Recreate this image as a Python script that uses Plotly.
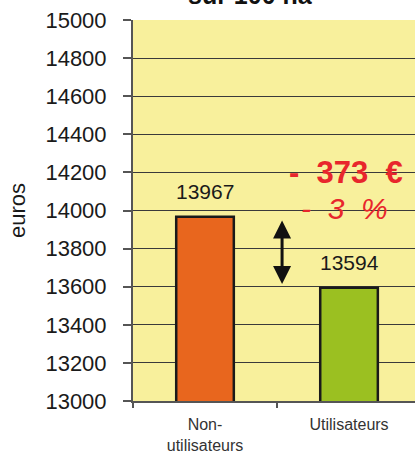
import plotly.graph_objects as go

categories = ["Non-<br>utilisateurs", "Utilisateurs"]
values = [13967, 13594]
bar_colors = ["#E8661E", "#9BC021"]
y_ticks = list(range(13000, 15001, 200))
y_tick_labels = [str(t) for t in y_ticks]
diff_text = "-\u00a0\u00a0373\u00a0\u00a0€"
pct_text = "-\u00a0\u00a03\u00a0\u00a0%"
title_text = "sur 100 ha"
y_title = "euros"

FONT = "Liberation Sans, Arial"

fig = go.Figure()
fig.add_trace(go.Bar(
    x=[0, 1], y=values,
    marker=dict(color=bar_colors, line=dict(color="#1a1a1a", width=2.5)),
    width=0.4, hoverinfo="skip",
))

# value labels
for i, v in enumerate(values):
    fig.add_annotation(x=i, y=v, text=str(v), showarrow=False, yanchor="bottom",
                       yshift=12, font=dict(family=FONT, size=21, color="#1a1a1a"))

# red difference labels
fig.add_annotation(x=0.98, y=14202, text="<b>" + diff_text + "</b>", showarrow=False,
                   font=dict(family=FONT, size=31, color="#E8262C"))
fig.add_annotation(x=0.97, y=14008, text="<i>" + pct_text + "</i>", showarrow=False,
                   font=dict(family=FONT, size=30, color="#E8262C"))

# double-headed arrow between values
fig.add_annotation(x=0.535, y=values[1] + 20, ax=0.535, ay=values[0] - 12,
                   axref="x", ayref="y", xref="x", yref="y", text="",
                   showarrow=True, arrowhead=2, startarrowhead=2, arrowside="end+start",
                   arrowwidth=3, arrowsize=1.2, startarrowsize=1.2, arrowcolor="#111111")

# title (mostly cut off at top)
fig.add_annotation(xref="paper", yref="paper", x=0.418, y=1.066, text="<b>" + title_text + "</b>",
                   showarrow=False, yanchor="middle",
                   font=dict(family=FONT, size=25, color="#111111"))

fig.update_layout(
    width=415, height=454,
    margin=dict(l=133, r=0, t=20, b=53, autoexpand=False),
    paper_bgcolor="white", plot_bgcolor="#F8F09C",
    showlegend=False,
    font=dict(family=FONT, color="#222222"),
)
fig.update_xaxes(
    range=[-0.5, 1.458], tickvals=[0, 1], ticktext=categories,
    showgrid=False, showline=True, linecolor="#555555", linewidth=2,
    ticks="", tickfont=dict(size=16, color="#333333"), ticklabelstandoff=8,
    zeroline=False, automargin=False,
    minor=dict(tickvals=[-0.5, 0.5], ticks="outside", ticklen=5, tickcolor="#555555",
               tickwidth=1.5, showgrid=False),
)
fig.update_yaxes(
    range=[13000, 15000], tickvals=y_ticks, ticktext=y_tick_labels,
    ticks="outside", ticklen=8, tickcolor="#555555", tickwidth=1.5,
    showgrid=True, gridcolor="#3a3a3a", gridwidth=1,
    showline=True, linecolor="#555555", linewidth=2,
    tickfont=dict(size=22, color="#1a1a1a"), ticklabelstandoff=12,
    title=dict(text=y_title, font=dict(size=22, color="#1a1a1a"), standoff=14),
    zeroline=False, automargin=False,
)

fig.write_html("out.html", config={"displayModeBar": False},
               post_script="document.body.style.margin='0';")
